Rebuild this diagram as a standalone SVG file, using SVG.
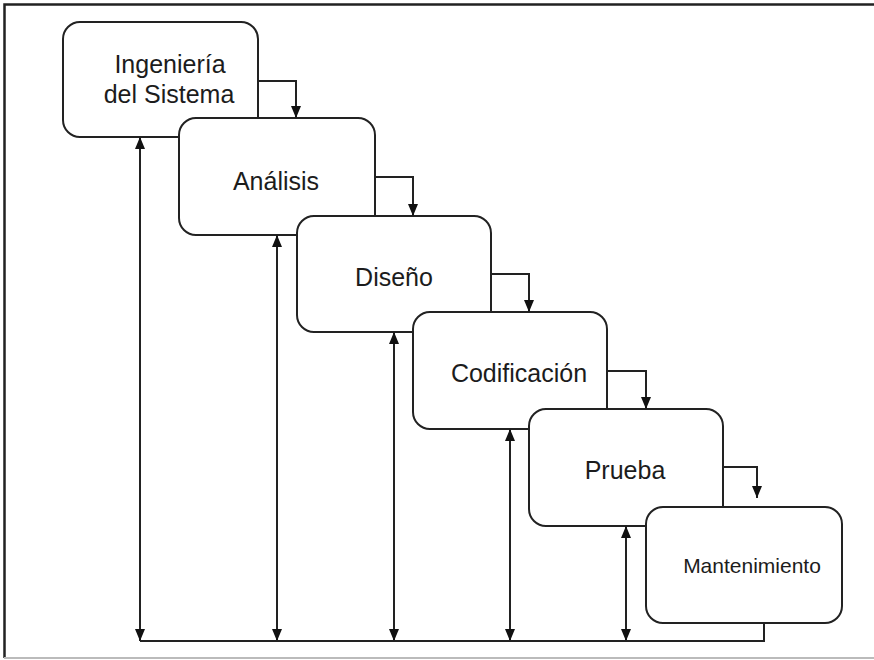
<svg xmlns="http://www.w3.org/2000/svg" width="874" height="660" viewBox="0 0 874 660">
  <style>
    .box { fill: #ffffff; stroke: #222222; stroke-width: 2; }
    .lbl { font-family: "Liberation Sans", Arial, sans-serif; font-size: 25px; fill: #1c1c1c; text-anchor: middle; }
    .small { font-size: 21px; }
    .con { fill: none; stroke: #222222; stroke-width: 2; }
    .step { marker-end: url(#ah); }
    .both { marker-start: url(#ah); marker-end: url(#ah); }
  </style>
  <defs>
    <marker id="ah" viewBox="0 0 12 10" refX="12" refY="5" markerWidth="12" markerHeight="10" markerUnits="userSpaceOnUse" orient="auto-start-reverse">
      <path d="M0,0 L12,5 L0,10 z" fill="#111111"/>
    </marker>
  </defs>
  <rect width="874" height="660" fill="#ffffff"/>
  <g id="frame">
    <path d="M4.5,658 V4.5 H874" fill="none" stroke="#222222" stroke-width="2.5"/>
    <path d="M4,658 H874" fill="none" stroke="#bbbbbb" stroke-width="2"/>
  </g>
  <g id="n1">
    <rect class="box" x="63" y="22" width="195" height="115" rx="17"/>
    <text class="lbl" x="170" y="73">Ingeniería</text>
    <text class="lbl" x="169" y="103">del Sistema</text>
  </g>
  <g id="n2">
    <rect class="box" x="179" y="118" width="196" height="117" rx="17"/>
    <text class="lbl" x="276" y="190">Análisis</text>
  </g>
  <g id="n3">
    <rect class="box" x="297" y="216" width="194" height="116" rx="17"/>
    <text class="lbl" x="394" y="286">Diseño</text>
  </g>
  <g id="n4">
    <rect class="box" x="413" y="312" width="194" height="117" rx="17"/>
    <text class="lbl" x="519" y="382">Codificación</text>
  </g>
  <g id="n5">
    <rect class="box" x="529" y="409" width="194" height="117" rx="17"/>
    <text class="lbl" x="625" y="479">Prueba</text>
  </g>
  <g id="n6">
    <rect class="box" x="646" y="507" width="196" height="116" rx="17"/>
    <text class="lbl small" x="752" y="573">Mantenimiento</text>
  </g>
  <g id="connectors">
    <path class="con step" d="M258,81 H296 V118"/>
    <path class="con step" d="M375,177 H413 V216"/>
    <path class="con step" d="M491,274 H529 V312"/>
    <path class="con step" d="M607,371 H646 V409"/>
    <path class="con step" d="M723,467 H757 V498"/>
    <path class="con both" d="M140,137 V641"/>
    <path class="con both" d="M277,235 V641"/>
    <path class="con both" d="M394,332 V641"/>
    <path class="con both" d="M510,429 V641"/>
    <path class="con both" d="M626,526 V641"/>
    <path class="con" d="M140,641 H764 V623"/>
  </g>
</svg>
